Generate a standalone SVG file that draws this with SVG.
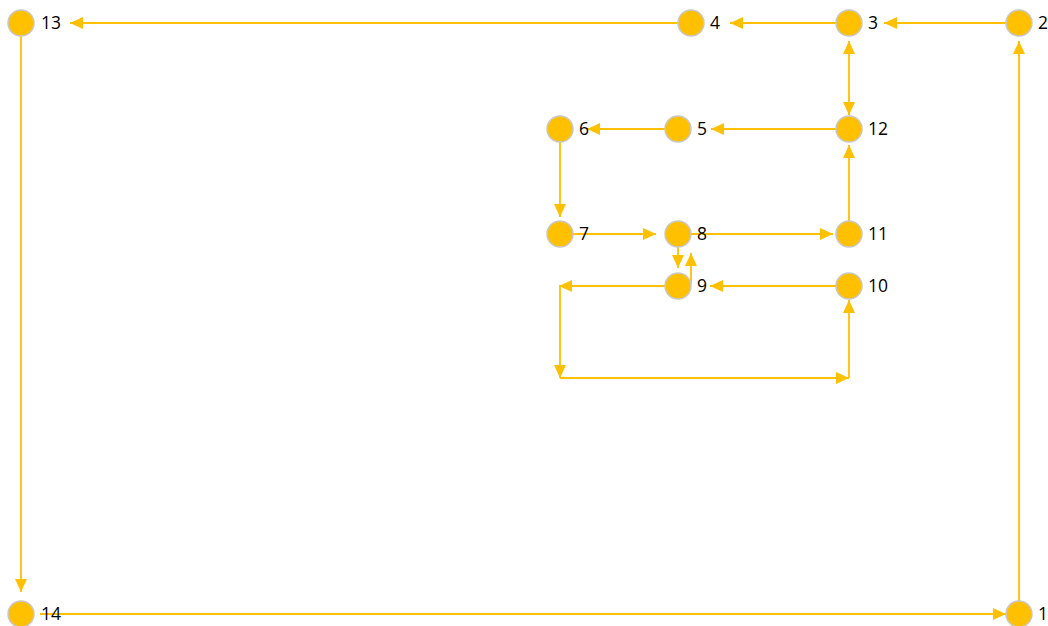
<svg xmlns="http://www.w3.org/2000/svg" width="1048" height="626" viewBox="0 0 1048 626">
  <style>
    .node circle { fill: #FFC000; stroke: #C8C8C8; stroke-width: 1.5; }
    .node text { font-family: "Open Sans", "Liberation Sans", sans-serif; font-size: 17.5px; fill: #000; }
    .edge { fill: none; stroke: #FFC000; stroke-width: 1.8; marker-end: url(#arrow); }
  </style>
  <defs>
    <marker id="arrow" markerUnits="userSpaceOnUse" markerWidth="14" markerHeight="12" refX="13" refY="6" orient="auto">
      <path d="M0,0 L13,6 L0,12 z" fill="#FFC000"/>
    </marker>
  </defs>
  <rect width="1048" height="626" fill="#fff"/>

  <!-- connectors -->
  <g id="connectors">
    <line class="edge" x1="1006" y1="23" x2="884" y2="23"/>
    <line class="edge" x1="836" y1="23" x2="730" y2="23"/>
    <line class="edge" x1="678" y1="23" x2="70" y2="23"/>
    <line class="edge" x1="21" y1="36" x2="21" y2="592"/>
    <line class="edge" x1="40" y1="614" x2="1006" y2="614"/>
    <line class="edge" x1="1019" y1="601" x2="1019" y2="41"/>
    <line class="edge" x1="849" y1="78" x2="849" y2="41"/>
    <line class="edge" x1="849" y1="78" x2="849" y2="115"/>
    <line class="edge" x1="836" y1="129" x2="711" y2="129"/>
    <line class="edge" x1="665" y1="129" x2="587" y2="129"/>
    <line class="edge" x1="560" y1="142" x2="560" y2="217"/>
    <line class="edge" x1="573" y1="234" x2="656" y2="234"/>
    <line class="edge" x1="691" y1="234" x2="833" y2="234"/>
    <line class="edge" x1="849" y1="221" x2="849" y2="145"/>
    <line class="edge" x1="678" y1="247" x2="678" y2="268"/>
    <line class="edge" x1="691" y1="284" x2="691" y2="253"/>
    <line class="edge" x1="836" y1="286" x2="710" y2="286"/>
    <line class="edge" x1="665" y1="286" x2="559" y2="286"/>
    <line class="edge" x1="560" y1="286" x2="560" y2="378"/>
    <line class="edge" x1="560" y1="378" x2="849" y2="378"/>
    <line class="edge" x1="849" y1="378" x2="849" y2="300"/>
  </g>

  <!-- nodes -->
  <g id="n13" class="node"><circle cx="21" cy="23" r="13"/><text x="41" y="29">13</text></g>
  <g id="n4" class="node"><circle cx="691" cy="23" r="13"/><text x="710" y="29">4</text></g>
  <g id="n3" class="node"><circle cx="849" cy="23" r="13"/><text x="868" y="29">3</text></g>
  <g id="n2" class="node"><circle cx="1019" cy="23" r="13"/><text x="1038" y="29">2</text></g>
  <g id="n12" class="node"><circle cx="849" cy="129" r="13"/><text x="868" y="135">12</text></g>
  <g id="n5" class="node"><circle cx="678" cy="129" r="13"/><text x="697" y="135">5</text></g>
  <g id="n6" class="node"><circle cx="560" cy="129" r="13"/><text x="579" y="135">6</text></g>
  <g id="n7" class="node"><circle cx="560" cy="234" r="13"/><text x="579" y="240">7</text></g>
  <g id="n8" class="node"><circle cx="678" cy="234" r="13"/><text x="697" y="240">8</text></g>
  <g id="n11" class="node"><circle cx="849" cy="234" r="13"/><text x="868" y="240">11</text></g>
  <g id="n9" class="node"><circle cx="678" cy="286" r="13"/><text x="697" y="292">9</text></g>
  <g id="n10" class="node"><circle cx="849" cy="286" r="13"/><text x="868" y="292">10</text></g>
  <g id="n14" class="node"><circle cx="21" cy="614" r="13"/><text x="41" y="620">14</text></g>
  <g id="n1" class="node"><circle cx="1019" cy="614" r="13"/><text x="1038" y="620">1</text></g>
</svg>
